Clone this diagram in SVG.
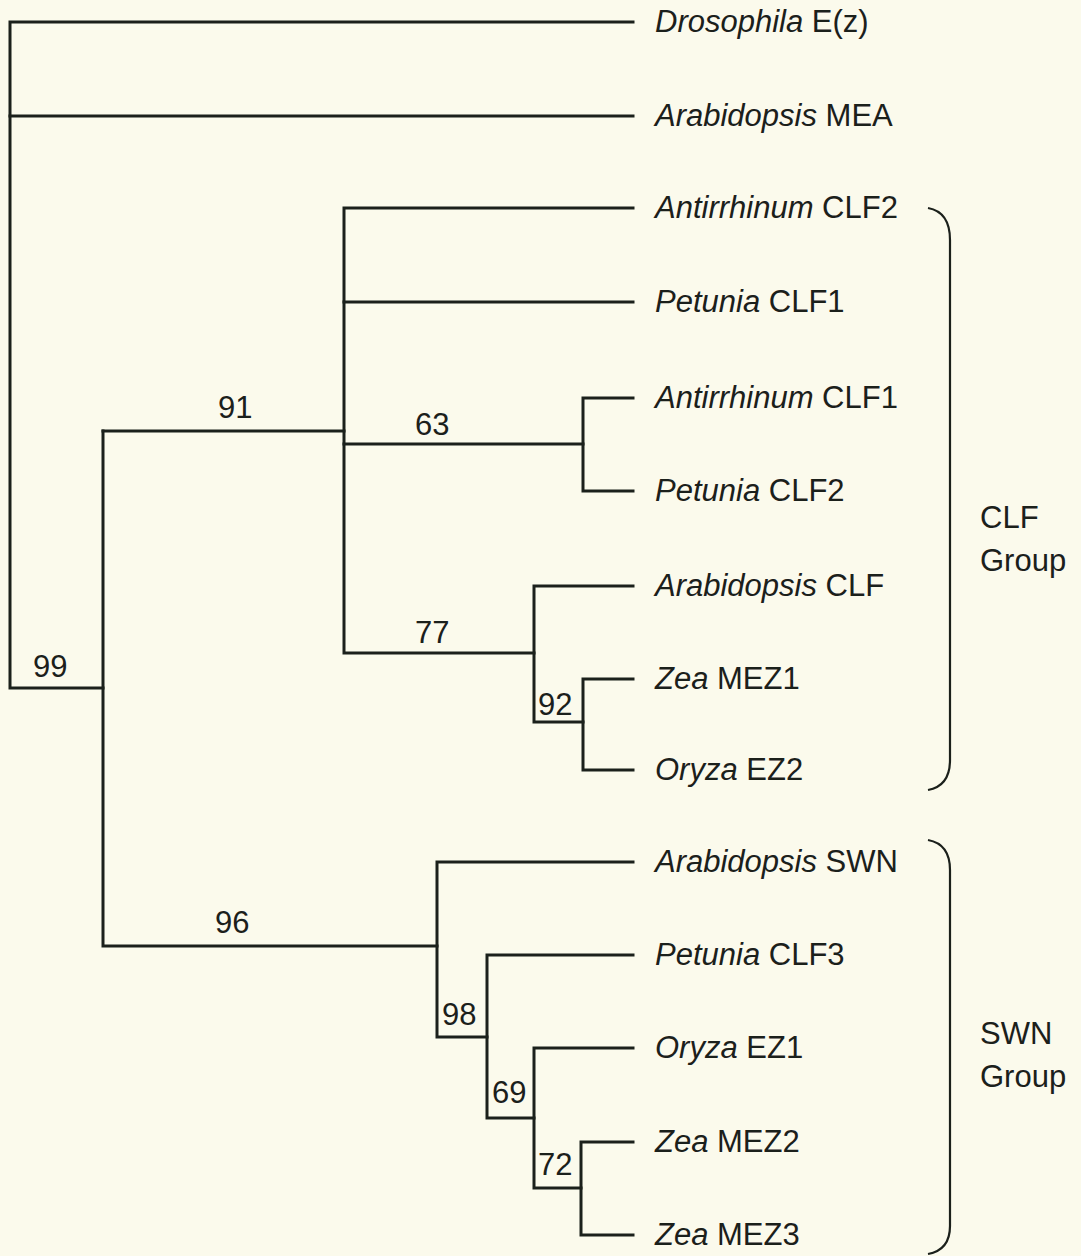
<svg xmlns="http://www.w3.org/2000/svg" width="1081" height="1256" viewBox="0 0 1081 1256">
<style>
.br{fill:none;stroke:#1b201b;stroke-width:3;stroke-linecap:square;stroke-linejoin:miter}
.bk{fill:none;stroke:#1b201b;stroke-width:2.2}
text{font-family:"Liberation Sans",Arial,sans-serif;font-size:31px;fill:#1b201b}
.sp{font-style:italic}
</style>
<rect width="1081" height="1256" fill="#fbfaec"/>
<g id="connectors">
<path class="br" d="M633 22H10V688H103"/>
<path class="br" d="M10 116H633"/>
<path class="br" d="M103 431V946H437"/>
<path class="br" d="M103 431H344"/>
<path class="br" d="M633 208H344V653H534"/>
<path class="br" d="M344 302H633"/>
<path class="br" d="M344 444H583"/>
<path class="br" d="M633 398H583V491H633"/>
<path class="br" d="M633 586H534V722H583"/>
<path class="br" d="M633 679H583V770H633"/>
<path class="br" d="M633 862H437V1037H487"/>
<path class="br" d="M633 955H487V1118H534"/>
<path class="br" d="M633 1048H534V1188H581"/>
<path class="br" d="M633 1142H581V1235H633"/>
</g>
<g id="support">
<text x="33" y="677">99</text>
<text x="218" y="418">91</text>
<text x="415" y="435">63</text>
<text x="415" y="643">77</text>
<text x="538" y="715">92</text>
<text x="215" y="933">96</text>
<text x="442" y="1025">98</text>
<text x="492" y="1103">69</text>
<text x="538" y="1175">72</text>
</g>
<g id="leaf-dros"><text x="655" y="32"><tspan class="sp">Drosophila</tspan> E(z)</text></g>
<g id="leaf-arab-mea"><text x="655" y="126"><tspan class="sp">Arabidopsis</tspan> MEA</text></g>
<g id="leaf-ant-clf2"><text x="655" y="218"><tspan class="sp">Antirrhinum</tspan> CLF2</text></g>
<g id="leaf-pet-clf1"><text x="655" y="312"><tspan class="sp">Petunia</tspan> CLF1</text></g>
<g id="leaf-ant-clf1"><text x="655" y="408"><tspan class="sp">Antirrhinum</tspan> CLF1</text></g>
<g id="leaf-pet-clf2"><text x="655" y="501"><tspan class="sp">Petunia</tspan> CLF2</text></g>
<g id="leaf-arab-clf"><text x="655" y="596"><tspan class="sp">Arabidopsis</tspan> CLF</text></g>
<g id="leaf-zea-mez1"><text x="655" y="689"><tspan class="sp">Zea</tspan> MEZ1</text></g>
<g id="leaf-ory-ez2"><text x="655" y="780"><tspan class="sp">Oryza</tspan> EZ2</text></g>
<g id="leaf-arab-swn"><text x="655" y="872"><tspan class="sp">Arabidopsis</tspan> SWN</text></g>
<g id="leaf-pet-clf3"><text x="655" y="965"><tspan class="sp">Petunia</tspan> CLF3</text></g>
<g id="leaf-ory-ez1"><text x="655" y="1058"><tspan class="sp">Oryza</tspan> EZ1</text></g>
<g id="leaf-zea-mez2"><text x="655" y="1152"><tspan class="sp">Zea</tspan> MEZ2</text></g>
<g id="leaf-zea-mez3"><text x="655" y="1245"><tspan class="sp">Zea</tspan> MEZ3</text></g>
<g id="clf-group">
<path class="bk" d="M928 208Q950 212 950 240V760Q950 786 928 790"/>
<text x="980" y="528">CLF</text>
<text x="980" y="571">Group</text>
</g>
<g id="swn-group">
<path class="bk" d="M928 840Q950 844 950 870V1226Q950 1250 928 1254"/>
<text x="980" y="1044">SWN</text>
<text x="980" y="1087">Group</text>
</g>
</svg>
